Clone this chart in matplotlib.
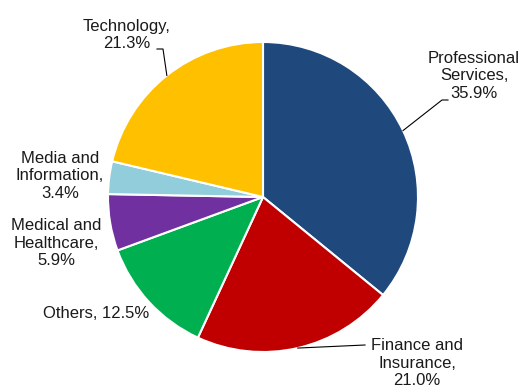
import matplotlib.pyplot as plt
import numpy as np

plt.rcParams['font.family'] = ['Liberation Sans', 'DejaVu Sans']

sectors = ['Professional\nServices', 'Finance and\nInsurance', 'Others',
           'Medical and\nHealthcare', 'Media and\nInformation', 'Technology']
shares = [35.9, 21.0, 12.5, 5.9, 3.4, 21.3]
colors = ['#1F497D', '#C00000', '#00B050', '#7030A0', '#92CDDC', '#FFC000']

W, H = 525, 390
fig = plt.figure(figsize=(W / 100, H / 100), dpi=100)

cx, cy, r = 263, 197, 155

# pie in pixel-like coordinates (y up)
pax = fig.add_axes([0, 0, 1, 1])
wedges, _ = pax.pie(shares, colors=colors, startangle=90, counterclock=False,
                    center=(cx, H - cy), radius=r, frame=True,
                    wedgeprops=dict(edgecolor='white', linewidth=1.5))
pax.set_xlim(0, W)
pax.set_ylim(0, H)
pax.set_aspect('auto')
pax.axis('off')

# overlay for labels, y measured from the top
ax = fig.add_axes([0, 0, 1, 1])
ax.set_xlim(0, W)
ax.set_ylim(H, 0)
ax.axis('off')


def edge_point(w):
    ang = np.deg2rad((w.theta1 + w.theta2) / 2)
    return cx + r * np.cos(ang), cy - r * np.sin(ang)


label_pos = {
    0: (474, 76),
    1: (417, 363),
    2: (96, 314),
    3: (56, 243),
    4: (60, 176),
    5: (127, 35),
}
for i, (x, y) in label_pos.items():
    name = sectors[i]
    txt = f'{name}, {shares[i]:.1f}%' if i == 2 else f'{name},\n{shares[i]:.1f}%'
    ax.text(x, y, txt, ha='center', va='center', fontsize=12,
            color='#1a1a1a', linespacing=1.2)

# leader lines
ex, ey = edge_point(wedges[5])
ax.plot([157, 163, ex], [49, 49, ey], color='black', lw=0.8)
ex, ey = edge_point(wedges[0])
ax.plot([448, 442, ex], [100, 100, ey], color='black', lw=0.8)
ex, ey = edge_point(wedges[1])
ax.plot([365, ex], [345, ey], color='black', lw=0.8)

fig.savefig('out.png', dpi=100)
